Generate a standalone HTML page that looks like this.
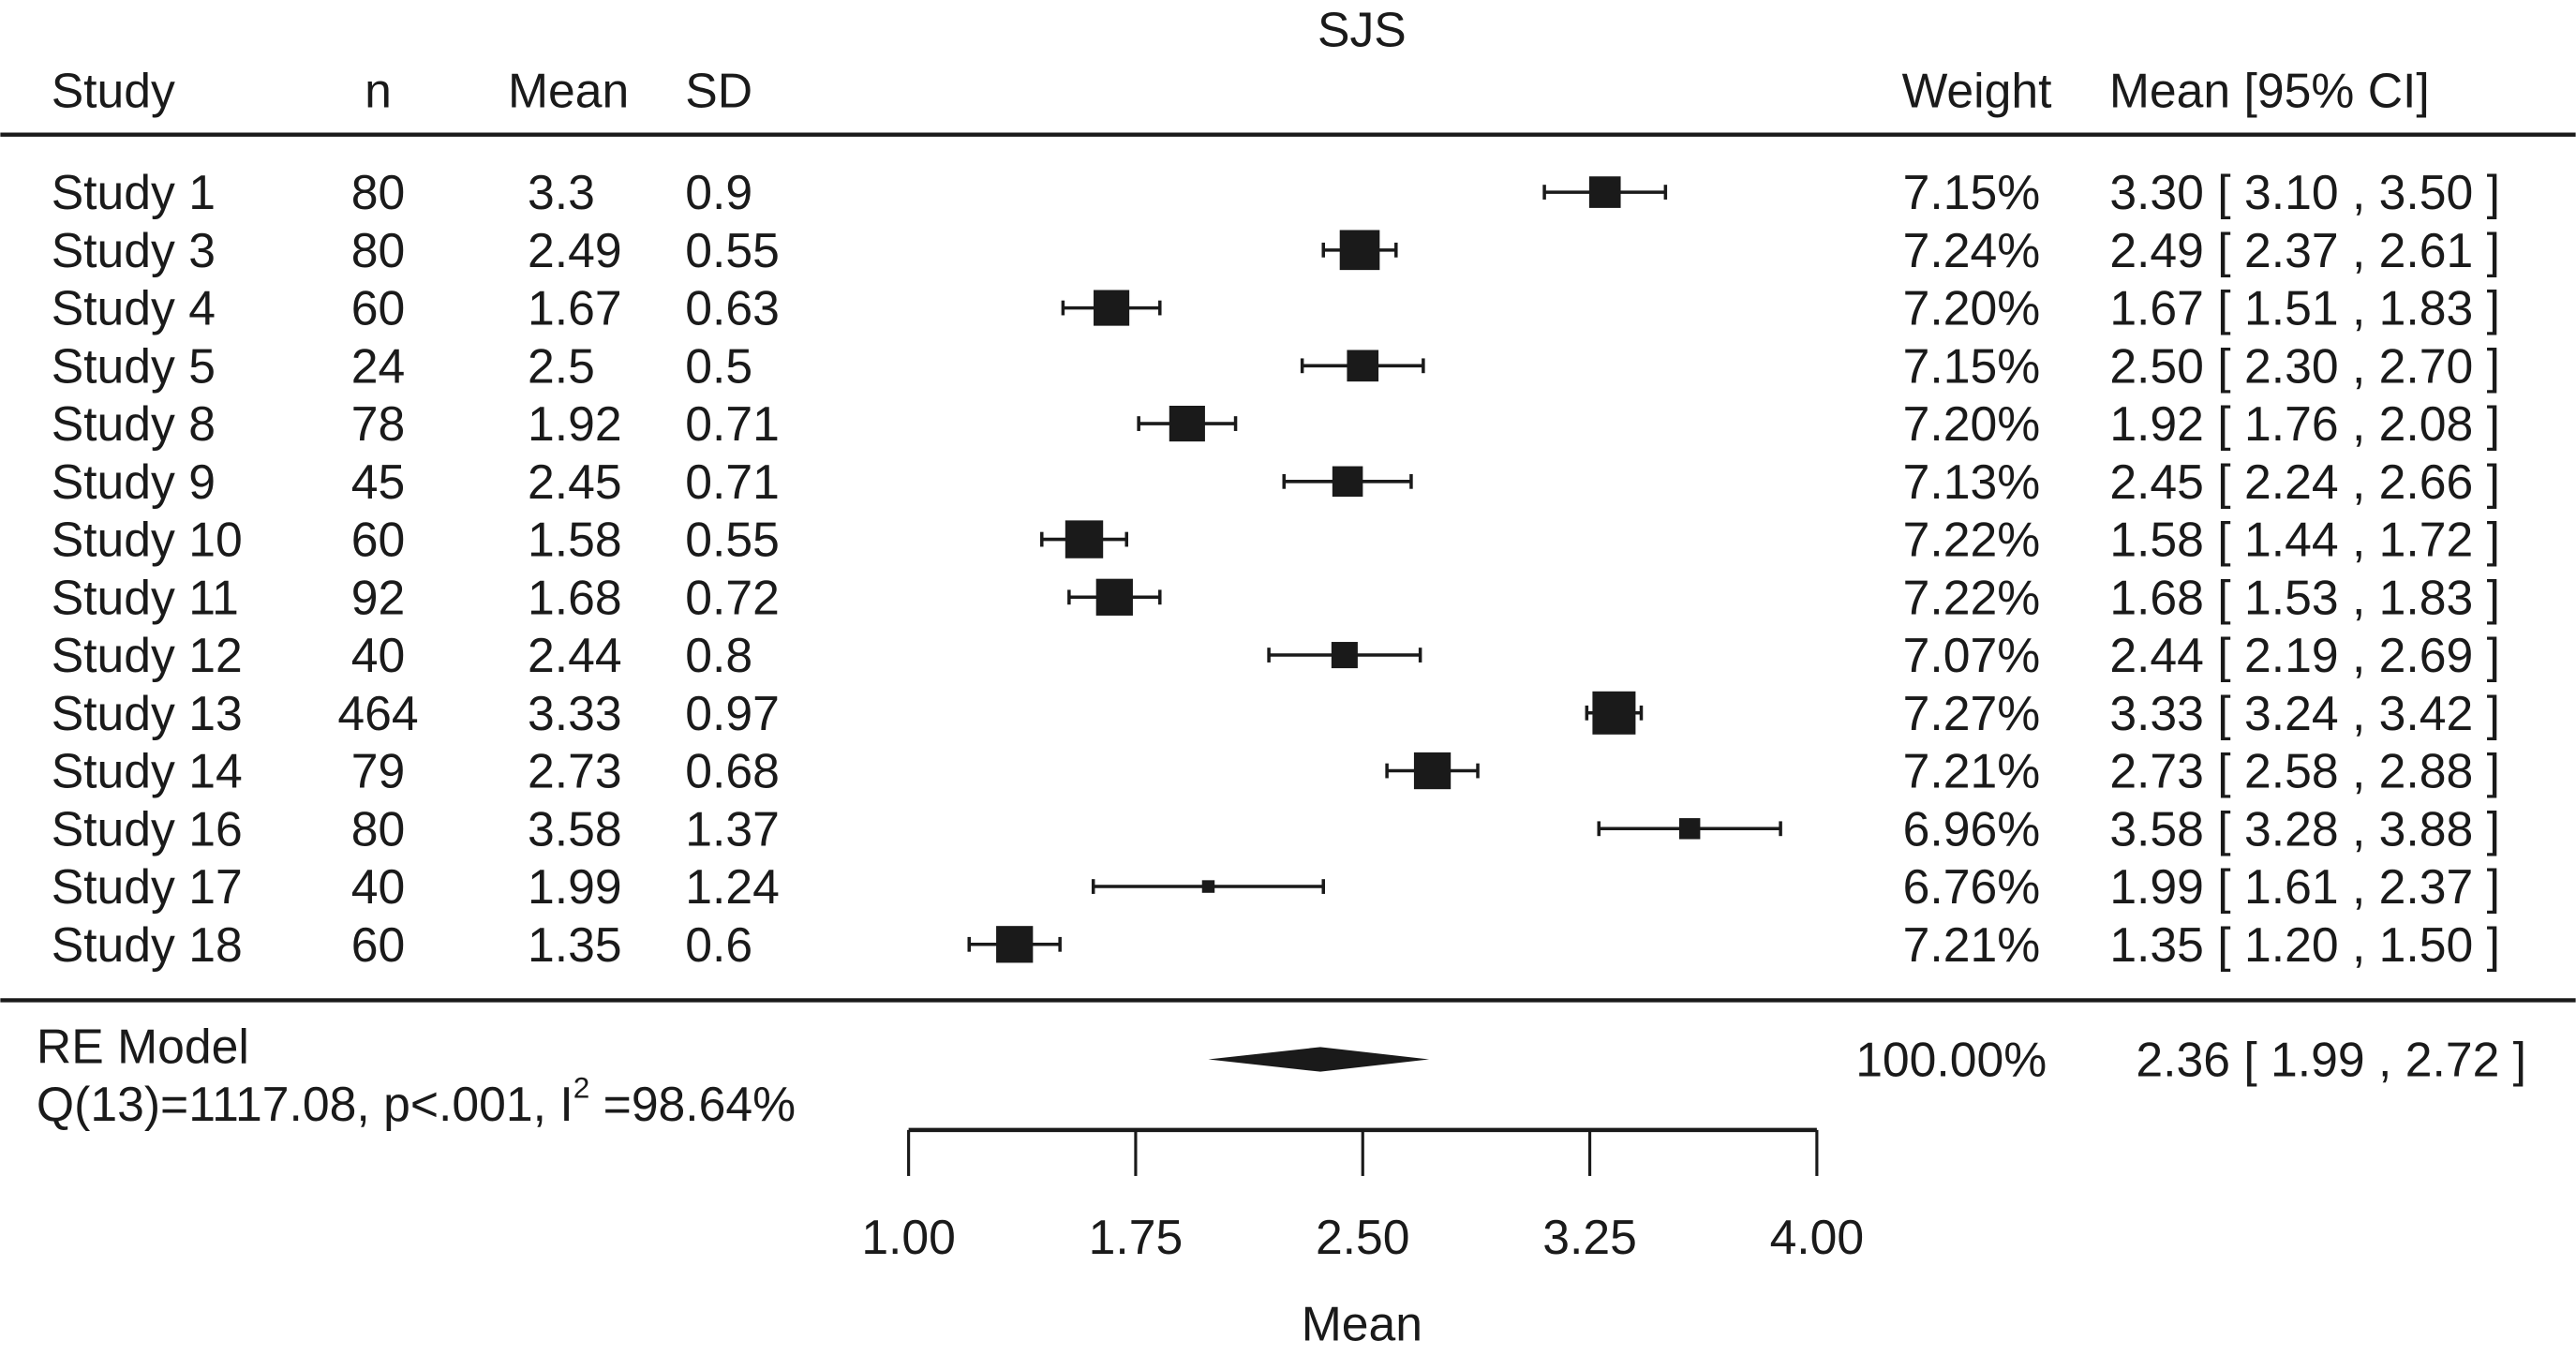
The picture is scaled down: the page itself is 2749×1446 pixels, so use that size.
<!DOCTYPE html>
<html><head><meta charset="utf-8"><style>
html,body{margin:0;padding:0;background:#fff;}
svg{display:block;}
text{font-family:"Liberation Sans",Arial,sans-serif;font-size:29.5px;fill:#1a1a1a;}
</style></head>
<body>
<svg id="chart" width="2749" height="1446" viewBox="0 0 1568 825" xmlns="http://www.w3.org/2000/svg">
<text x="829" y="18" text-anchor="middle" dominant-baseline="central">SJS</text>
<g>
<text x="31" y="55" dominant-baseline="central">Study</text>
<text x="230" y="55" text-anchor="middle" dominant-baseline="central">n</text>
<text x="309" y="55" dominant-baseline="central">Mean</text>
<text x="417" y="55" dominant-baseline="central">SD</text>
<text x="1249" y="55" text-anchor="end" dominant-baseline="central">Weight</text>
<text x="1284" y="55" dominant-baseline="central">Mean [95% CI]</text>
</g>
<line x1="0" y1="82" x2="1568" y2="82" stroke="#1a1a1a" stroke-width="2.5"/>
<line x1="0" y1="609" x2="1568" y2="609" stroke="#1a1a1a" stroke-width="2.5"/>
<g id="rows"></g>
<text x="22" y="637" dominant-baseline="central">RE Model</text>
<text x="22" y="672" dominant-baseline="central">Q(13)=1117.08, p&lt;.001, I<tspan font-size="18" dy="-10">2</tspan><tspan dy="10"> =98.64%</tspan></text>
<polygon id="diamond" fill="#1a1a1a"/>
<text x="1246" y="645" text-anchor="end" dominant-baseline="central">100.00%</text>
<text id="sumci" x="1538" y="645" text-anchor="end" dominant-baseline="central"></text>
<g id="axis"></g>
<text x="829" y="806" text-anchor="middle" dominant-baseline="central">Mean</text>
</svg>
<script>
const studies=["Study 1","Study 3","Study 4","Study 5","Study 8","Study 9","Study 10","Study 11","Study 12","Study 13","Study 14","Study 16","Study 17","Study 18"];
const ns=[80,80,60,24,78,45,60,92,40,464,79,80,40,60];
const means=["3.3","2.49","1.67","2.5","1.92","2.45","1.58","1.68","2.44","3.33","2.73","3.58","1.99","1.35"];
const sds=["0.9","0.55","0.63","0.5","0.71","0.71","0.55","0.72","0.8","0.97","0.68","1.37","1.24","0.6"];
const est=[3.30,2.49,1.67,2.50,1.92,2.45,1.58,1.68,2.44,3.33,2.73,3.58,1.99,1.35];
const lower=[3.10,2.37,1.51,2.30,1.76,2.24,1.44,1.53,2.19,3.24,2.58,3.28,1.61,1.20];
const upper=[3.50,2.61,1.83,2.70,2.08,2.66,1.72,1.83,2.69,3.42,2.88,3.88,2.37,1.50];
const weights=["7.15%","7.24%","7.20%","7.15%","7.20%","7.13%","7.22%","7.22%","7.07%","7.27%","7.21%","6.96%","6.76%","7.21%"];
const summaryEst=2.36, summaryLower=1.99, summaryUpper=2.72;
const ticks=[1.00,1.75,2.50,3.25,4.00];
const tickLabels=["1.00","1.75","2.50","3.25","4.00"];

const NS="http://www.w3.org/2000/svg";
const xs=v=>553+(v-1)*(1106-553)/3;
const ys=i=>117+i*35.23;
function mk(tag,attrs,parent,txt){const e=document.createElementNS(NS,tag);for(const k in attrs)e.setAttribute(k,attrs[k]);if(txt!==undefined)e.textContent=txt;parent.appendChild(e);return e;}
const rows=document.getElementById('rows');
const f=v=>v.toFixed(2);
studies.forEach((s,i)=>{
  const y=ys(i);
  const g=mk('g',{},rows);
  
  
  let t;
  t=mk('text',{x:31,y:y,'dominant-baseline':'central'},g,s);
  
  
  t=mk('text',{x:230,y:y,'text-anchor':'middle','dominant-baseline':'central'},g,ns[i]);
  
  
  t=mk('text',{x:321,y:y,'dominant-baseline':'central'},g,means[i]);
  
  
  t=mk('text',{x:417,y:y,'dominant-baseline':'central'},g,sds[i]);
  
  
  t=mk('text',{x:1242,y:y,'text-anchor':'end','dominant-baseline':'central'},g,weights[i]);
  
  
  t=mk('text',{x:1522,y:y,'text-anchor':'end','dominant-baseline':'central'},g,f(est[i])+" [ "+f(lower[i])+" , "+f(upper[i])+" ]");
  
  
  const x1=xs(lower[i]),x2=xs(upper[i]);
  let l=mk('line',{x1:x1,y1:y,x2:x2,y2:y,stroke:'#1a1a1a','stroke-width':2},g);
  
  
  [x1,x2].forEach(x=>{const c=mk('line',{x1:x,y1:y-4.5,x2:x,y2:y+4.5,stroke:'#1a1a1a','stroke-width':2},g);
    
    });
  const sz=Math.max(6,32*(1-(upper[i]-lower[i])));
  const r=mk('rect',{x:xs(est[i])-sz/2,y:y-sz/2,width:sz,height:sz,fill:'#1a1a1a'},g);
  
  
});
const dy=645;
document.getElementById('diamond').setAttribute('points',`${xs(summaryLower)},${dy} ${xs(summaryEst)},${dy-7.5} ${xs(summaryUpper)},${dy} ${xs(summaryEst)},${dy+7.5}`);
document.getElementById('sumci').textContent=f(summaryEst)+" [ "+f(summaryLower)+" , "+f(summaryUpper)+" ]";
const ax=document.getElementById('axis');
let al=mk('line',{x1:xs(ticks[0]),y1:688,x2:xs(ticks[ticks.length-1]),y2:688,stroke:'#1a1a1a','stroke-width':2.5},ax);


ticks.forEach((v,i)=>{
  const tk=mk('line',{x1:xs(v),y1:688,x2:xs(v),y2:716,stroke:'#1a1a1a','stroke-width':1.8},ax);
  
  
  const tl=mk('text',{x:xs(v),y:753,'text-anchor':'middle','dominant-baseline':'central'},ax,tickLabels[i]);
  
  
});
</script>
</body></html>
